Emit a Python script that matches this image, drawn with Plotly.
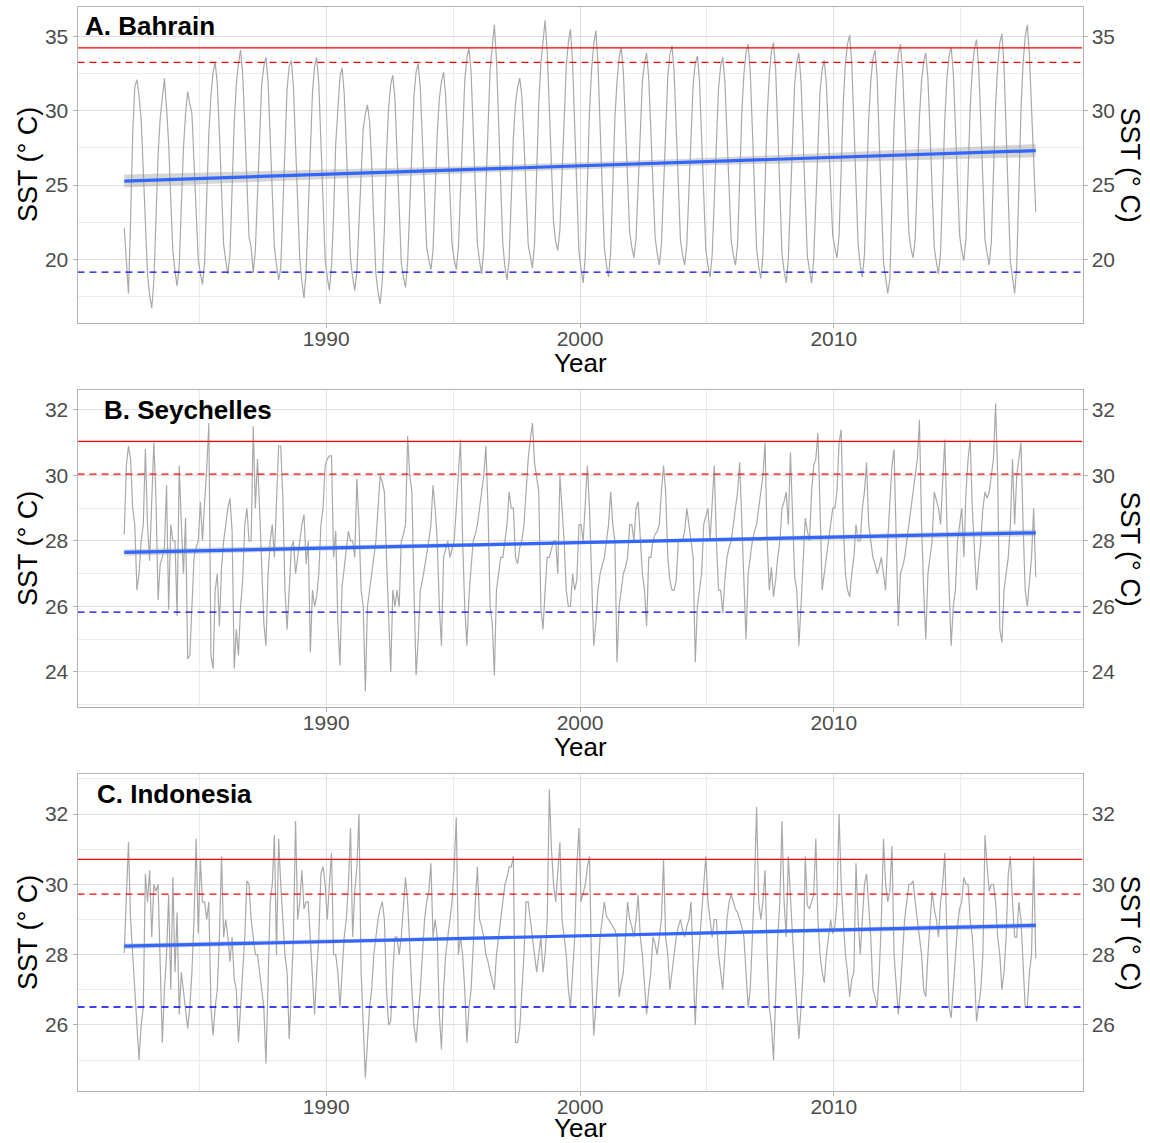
import plotly.graph_objects as go
import numpy as np

# ---------------- data (monthly SST) ----------------
YEAR_START = 1982
X_RANGE = [1980.2, 2019.8]
x_ticks = [1990, 2000, 2010]
x_tick_labels = ["1990", "2000", "2010"]
x_minor_ticks = [1985, 1995, 2005, 2015]

bahrain_sst = [
    22.1, 20.0, 17.7, 22.6, 28.4, 31.6, 32.1, 31.0, 29.4, 26.0, 22.0, 19.0,
    17.6, 16.7, 18.5, 22.5, 27.0, 29.5, 31.0, 32.2, 30.2, 27.8, 24.0, 20.5,
    19.2, 18.2, 19.6, 23.2, 27.5, 29.8, 31.3, 30.5, 29.8, 26.5, 23.0, 20.0,
    19.0, 18.3, 19.8, 23.8, 28.5, 31.0, 32.6, 33.3, 31.8, 28.5, 24.5, 21.0,
    19.9, 19.0, 20.3, 24.5, 29.2, 31.8, 33.2, 34.1, 32.5, 29.0, 25.2, 21.5,
    20.8, 19.1, 20.6, 24.8, 29.0, 31.8, 33.0, 33.6, 32.0, 28.3, 24.6, 20.8,
    19.6, 18.6, 19.4, 23.5, 28.8, 31.5, 33.0, 33.4, 31.6, 27.8, 23.5, 20.0,
    18.5, 17.4, 19.2, 23.5, 28.0, 31.2, 33.0, 33.6, 31.8, 28.0, 23.8, 20.0,
    18.8, 17.9, 19.5, 23.0, 27.8, 30.5, 32.3, 32.9, 31.2, 27.6, 23.5, 20.0,
    18.8, 17.9, 19.2, 22.5, 26.5, 28.8, 29.8, 30.4, 29.3, 26.5, 22.5, 19.0,
    17.8, 17.0, 18.5, 22.0, 27.0, 30.2, 31.8, 32.4, 30.8, 27.3, 23.2, 19.8,
    18.8, 18.1, 19.8, 23.5, 28.3, 31.0, 32.6, 33.2, 31.5, 28.0, 24.3, 20.8,
    20.0, 19.3, 20.6, 24.2, 28.5, 30.8, 32.0, 32.6, 31.0, 28.0, 24.5, 21.0,
    20.0, 19.3, 20.8, 24.8, 29.3, 32.0, 33.6, 34.2, 32.6, 29.0, 24.8, 21.0,
    19.9, 19.0, 20.7, 25.0, 30.0, 32.8, 34.3, 35.8, 33.5, 29.5, 25.0, 21.0,
    19.5, 18.6, 20.0, 23.8, 28.2, 30.5, 31.6, 32.2, 31.0, 28.0, 24.5, 21.0,
    20.2, 19.4, 21.0, 25.5, 30.5, 33.2, 34.8, 36.1, 34.0, 30.5, 26.2, 22.5,
    21.2, 20.6, 22.0, 25.8, 30.5, 33.0, 34.6, 35.5, 33.2, 29.2, 24.5, 20.5,
    19.3, 18.4, 20.2, 24.8, 30.0, 32.8, 34.5, 35.4, 33.2, 29.0, 24.6, 20.8,
    19.6, 18.8, 20.5, 24.6, 29.5, 32.0, 33.6, 34.3, 32.6, 29.0, 25.3, 21.8,
    20.8, 20.1, 21.4, 25.0, 29.5, 32.0, 33.2, 33.9, 32.2, 28.8, 25.0, 21.5,
    20.4, 19.6, 21.0, 25.0, 29.6, 32.3, 33.8, 34.4, 32.6, 29.0, 25.0, 21.3,
    20.3, 19.6, 21.0, 24.8, 29.2, 31.8, 33.2, 33.7, 32.0, 28.5, 24.5, 20.6,
    19.6, 18.8, 20.3, 24.2, 28.8, 31.5, 33.0, 33.6, 32.0, 28.5, 24.8, 21.2,
    20.3, 19.6, 21.0, 25.2, 29.8, 32.5, 33.9, 34.5, 32.6, 28.8, 24.6, 20.7,
    19.5, 18.7, 20.3, 24.8, 29.6, 32.4, 34.0, 34.6, 32.8, 28.8, 24.3, 20.4,
    19.2, 18.4, 20.0, 24.2, 29.0, 31.8, 33.3, 33.9, 32.0, 28.2, 24.0, 20.2,
    19.3, 18.4, 20.0, 24.0, 28.6, 31.3, 32.8, 33.4, 31.8, 28.5, 24.8, 21.6,
    20.8, 20.1, 21.6, 25.8, 30.6, 33.2, 34.5, 35.1, 33.2, 29.2, 24.8, 21.0,
    19.6, 18.8, 20.3, 24.5, 29.4, 32.0, 33.5, 34.1, 32.2, 28.0, 23.5, 19.8,
    18.8, 17.7, 18.6, 23.6, 29.0, 32.0, 33.8, 34.5, 32.8, 29.3, 25.3, 21.8,
    20.7, 20.1, 21.4, 25.2, 29.6, 32.0, 33.3, 33.9, 32.2, 28.6, 24.6, 20.8,
    19.8, 19.0, 20.5, 24.8, 29.5, 32.2, 33.7, 34.3, 32.6, 29.0, 25.2, 21.6,
    20.6, 19.9, 21.4, 25.6, 30.2, 32.8, 34.2, 34.8, 33.0, 29.3, 25.1, 21.3,
    20.4, 19.6, 21.2, 25.5, 30.4, 33.0, 34.6, 35.2, 33.0, 28.6, 23.8, 19.8,
    18.8, 17.7, 19.5, 24.6, 30.0, 33.2, 35.0, 35.8, 33.8, 30.2, 27.0, 23.2,
]

seychelles_sst = [
    28.2, 30.3, 30.9, 30.5, 29.0, 28.5, 26.5, 27.0, 28.0, 28.5, 30.8, 28.5,
    27.4, 29.5, 31.0, 29.3, 26.2, 27.3, 27.5, 27.8, 29.7, 25.9, 28.5, 28.0,
    28.0, 25.7, 30.3, 28.5, 27.0, 28.7, 24.4, 24.5, 26.2, 27.5, 27.8, 28.0,
    29.2, 28.0, 29.2, 30.2, 31.6, 24.5, 24.1, 26.5, 27.0, 25.4, 27.2, 28.0,
    28.5, 29.0, 29.3, 28.3, 24.1, 25.3, 24.5, 26.0, 26.8, 28.5, 29.0, 28.0,
    28.0, 31.5, 29.0, 30.5, 29.0, 27.5, 25.5, 24.8, 27.0, 28.0, 28.5, 27.5,
    29.0, 30.9, 30.9, 29.3, 26.5, 25.3, 26.5, 27.8, 28.0, 27.0, 27.5, 28.0,
    28.5, 28.8, 27.3, 28.0, 24.6, 26.5, 26.0, 26.3, 27.0, 28.5, 29.0, 30.3,
    30.5, 30.6, 30.6, 27.5, 28.3, 25.5, 24.2, 26.6, 27.2, 27.8, 28.3, 28.0,
    28.0, 27.5, 29.9, 28.5, 26.5, 26.0, 23.4, 26.0, 26.5, 27.0, 27.5, 28.0,
    29.0, 30.0, 29.8, 29.5, 27.5, 25.8, 24.0, 26.5, 26.0, 26.5, 26.0, 28.0,
    28.2, 28.5, 31.2, 30.0, 29.5, 26.5, 23.9, 25.0, 26.5, 26.8, 27.2, 27.5,
    28.0, 28.5, 29.7, 29.0, 28.0, 26.0, 24.8, 27.5, 27.8, 28.0, 27.5, 27.8,
    28.0, 29.0, 30.0, 31.1, 28.0, 26.0, 24.8, 26.3, 27.2, 28.0, 28.2, 28.5,
    29.0, 29.5, 30.0, 30.9, 29.0, 26.0, 25.5, 23.9, 26.5, 27.0, 27.5, 27.5,
    28.0, 28.5, 29.5, 29.0, 29.0, 27.5, 27.3, 27.8, 28.0, 28.5, 29.5, 30.5,
    31.1, 31.6, 30.4, 30.0, 29.5, 26.0, 25.3, 26.5, 27.5, 27.5, 27.8, 28.0,
    28.0, 27.0, 30.0, 29.0, 28.0, 26.5, 26.0, 26.0, 27.0, 26.5, 26.8, 28.5,
    28.5, 28.0, 29.0, 30.3, 29.0, 27.0, 24.8, 25.5, 26.5, 27.0, 27.3, 27.5,
    28.0, 28.5, 29.5, 28.5, 28.0, 24.3, 26.0, 26.5, 27.0, 27.2, 27.5, 28.5,
    28.5, 28.0, 29.0, 29.2, 28.0, 27.0, 26.5, 25.4, 27.5, 27.5, 28.0, 28.2,
    28.3, 28.5, 29.5, 30.3, 29.5, 27.5, 26.8, 26.5, 26.5, 26.8, 28.0, 28.0,
    28.0, 28.3, 29.0, 28.5, 28.0, 27.5, 24.3, 26.0, 26.5, 27.0, 28.5, 28.8,
    29.0, 28.0, 29.2, 30.3, 28.0, 26.5, 26.5, 25.8, 26.8, 27.5, 27.8, 28.0,
    28.5, 29.0, 29.5, 30.4, 28.5, 26.5, 25.0, 27.0, 27.5, 28.0, 28.3, 28.5,
    29.0, 29.5, 30.0, 31.0, 28.0, 26.5, 27.2, 26.3, 26.8, 27.5, 28.0, 29.0,
    29.2, 29.5, 28.5, 30.7, 28.5, 26.9, 26.5, 24.8, 26.0, 27.5, 28.7, 28.3,
    28.0, 29.5, 30.3, 30.5, 31.3, 29.0, 26.5, 27.0, 27.5, 28.0, 28.5, 29.0,
    29.0, 29.5, 31.0, 31.4, 28.5, 27.0, 26.5, 26.3, 27.0, 27.5, 28.5, 28.0,
    28.0, 29.0, 29.5, 30.4, 28.5, 28.0, 27.5, 27.3, 27.0, 27.2, 27.5, 27.0,
    26.5, 28.0, 29.0, 30.3, 30.8, 28.0, 25.4, 27.0, 27.2, 27.5, 28.0, 28.5,
    29.0, 29.5, 30.0, 30.5, 31.7, 28.5, 26.5, 25.0, 27.0, 27.5, 28.0, 29.5,
    29.2, 29.0, 28.5, 30.0, 31.1, 28.5, 26.5, 24.8, 26.0, 26.5, 28.0, 28.5,
    29.0, 27.5, 29.5, 30.5, 31.1, 29.0, 27.5, 26.5, 27.3, 28.0, 29.0, 29.5,
    29.3, 29.5, 30.0, 30.5, 32.2, 30.0, 25.3, 24.9, 26.5, 27.0, 27.5, 28.5,
    30.5, 28.5, 30.0, 30.5, 31.0, 28.5, 26.5, 26.0, 26.8, 27.5, 29.0, 26.9,
]

indonesia_sst = [
    28.05, 29.8, 31.2, 29.0, 28.0, 27.0, 26.0, 25.0, 26.0, 26.5, 30.3, 29.5,
    30.4, 28.5, 30.0, 29.8, 30.0, 27.5, 25.5, 27.0, 28.0, 29.7, 27.0, 30.2,
    27.5, 29.2, 26.3, 27.5, 27.0, 26.5, 25.9, 26.5, 27.5, 29.0, 31.3, 28.6,
    30.7, 29.5, 29.5, 29.0, 29.5, 26.5, 25.7, 26.5, 27.0, 28.5, 30.8, 28.5,
    29.0, 28.5, 27.8, 28.5, 27.3, 27.0, 25.5, 26.5, 27.5, 28.5, 30.1, 30.0,
    29.0, 28.5, 28.0, 28.0, 27.5, 27.0, 26.5, 24.9, 27.0, 29.5, 30.0, 31.4,
    28.0, 31.3, 30.0, 29.0, 28.0, 27.5, 25.6, 27.0, 28.5, 31.8, 29.0, 29.5,
    30.4, 29.3, 29.5, 29.5, 28.5, 27.5, 26.3, 27.5, 28.5, 30.3, 30.5, 30.0,
    29.0, 30.0, 30.9, 28.0, 28.0, 27.5, 26.5, 27.5, 28.5, 29.0, 30.0, 31.6,
    28.5, 29.8, 30.5, 32.0, 27.5, 26.0, 24.5, 25.5, 26.5, 27.0, 28.0, 28.5,
    29.0, 29.3, 29.5, 29.0, 27.0, 26.0, 26.1, 27.5, 28.5, 28.5, 28.0, 28.5,
    29.5, 30.2, 29.5, 28.0, 27.0, 26.0, 25.5, 26.3, 27.0, 28.0, 29.0, 29.5,
    29.8, 30.6, 28.5, 29.0, 28.5, 26.3, 25.3, 27.0, 28.0, 28.5, 29.0, 29.5,
    30.5, 31.9, 28.0, 28.5, 28.0, 27.0, 25.5, 26.5, 27.0, 28.5, 29.5, 30.5,
    29.0, 28.8, 28.5, 28.0, 27.8, 27.5, 27.2, 27.0, 28.0, 28.5, 29.0, 29.5,
    30.0, 30.2, 30.5, 30.5, 30.8, 25.5, 25.5, 25.9, 27.0, 28.0, 29.5, 29.5,
    29.0, 28.5, 28.0, 27.5, 28.0, 28.5, 27.5, 28.0, 29.0, 32.7, 31.0, 30.0,
    29.5, 30.5, 31.2, 29.0, 28.5, 28.0, 27.0, 26.5, 27.5, 28.5, 30.5, 31.6,
    29.5, 29.8, 30.0, 30.5, 30.8, 27.5, 25.7, 26.5, 27.5, 28.5, 29.0, 29.5,
    29.1, 29.0, 28.9, 28.8, 28.7, 28.5, 26.8, 27.2, 27.5, 28.5, 29.5, 29.0,
    28.8, 28.5, 29.0, 29.7, 28.5, 28.0, 27.0, 26.3, 27.0, 27.5, 28.5, 28.3,
    28.0, 28.5, 29.0, 30.7, 28.5, 28.0, 27.0, 27.5, 28.0, 28.5, 28.8, 29.0,
    28.7, 28.5, 28.8, 29.0, 29.5, 28.0, 26.0, 27.5, 28.3, 29.0, 30.0, 30.8,
    29.5, 29.0, 28.5, 29.0, 29.0, 28.0, 27.5, 27.0, 28.0, 29.0, 29.5, 29.7,
    29.5, 29.3, 29.2, 29.0, 28.8, 28.5, 27.5, 26.5, 27.0, 28.5, 30.0, 32.2,
    29.5, 29.0, 29.5, 30.4, 28.0, 26.5, 26.0, 25.0, 27.0, 28.5, 29.5, 31.8,
    29.5, 28.5, 30.8, 29.5, 28.5, 27.5, 26.5, 25.6, 26.5, 27.5, 30.8, 29.4,
    29.3, 29.5, 29.7, 31.3, 29.0, 28.0, 27.5, 27.2, 28.0, 28.5, 29.0, 28.6,
    28.8, 29.5, 32.0, 30.0, 29.0, 28.0, 27.5, 26.8, 27.3, 27.5, 30.6, 29.0,
    28.0, 29.0, 30.0, 30.3, 29.5, 28.5, 27.0, 26.8, 26.5, 27.5, 29.0, 31.3,
    30.0, 29.5, 29.8, 31.1, 28.0, 27.0, 26.3, 27.0, 28.0, 29.0, 29.5, 30.0,
    30.0, 30.1, 29.5, 29.0, 28.5, 28.0, 27.0, 26.8, 28.0, 29.0, 29.8, 29.3,
    29.0, 28.5, 29.5, 30.0, 30.9, 28.5, 26.5, 26.2, 27.0, 28.0, 28.8, 29.3,
    29.5, 30.2, 30.0, 30.0, 29.0, 28.5, 27.5, 26.1, 26.5, 27.0, 28.0, 31.4,
    30.5, 29.8, 30.0, 30.0, 29.5, 28.5, 28.0, 27.0, 27.5, 28.5, 30.3, 30.8,
    29.5, 28.5, 28.5, 29.5, 29.0, 27.5, 26.5, 26.5, 27.5, 28.0, 30.8, 27.9,
]

panel_labels = ["A. Bahrain", "B. Seychelles", "C. Indonesia"]
# horizontal reference lines
red_solid = [34.24, 31.04, 30.71]
red_dashed = [33.27, 30.04, 29.72]
blue_dashed = [19.14, 25.83, 26.51]
# linear trend (start / end) and CI half width at centre
trend_start = [25.27, 27.65, 28.24]
trend_end = [27.32, 28.25, 28.83]
trend_ci_mid = [0.22, 0.05, 0.04]

y_ranges = [[15.74, 37.03], [22.93, 32.61], [24.12, 33.14]]
y_ticks = [[20, 25, 30, 35], [24, 26, 28, 30, 32], [26, 28, 30, 32]]
y_minor_ticks = [[17.5, 22.5, 27.5, 32.5], [23, 25, 27, 29, 31], [25, 27, 29, 31, 33]]
label_pos = [[1980.4, 35.75], [1981.15, 32.0], [1980.9, 32.57]]

series = [bahrain_sst, seychelles_sst, indonesia_sst]

# ---------------- layout geometry ----------------
W, H = 1150, 1143
x_dom = [77.5 / W, 1082.5 / W]
y_pix = [(6.5, 322.5), (390, 707), (774, 1091)]
year_pix = [363, 747, 1128]

FONT = "Liberation Sans, Arial, Helvetica, sans-serif"
TICK_FONT = dict(family=FONT, size=21, color="#4d4d4d")
BORDER = "#b3b3b3"
GRID = "#dedede"
GRID_MINOR = "#ececec"

fig = go.Figure()
annotations = []

for k in range(3):
    idx = k + 1
    xa = "x" if idx == 1 else f"x{idx}"
    ya = "y" if idx == 1 else f"y{idx}"
    ya_r = f"y{idx + 3}"
    vals = series[k]
    xs = np.array([YEAR_START + (i + 0.5) / 12 for i in range(len(vals))])

    # SST series
    fig.add_trace(go.Scatter(x=xs, y=vals, mode="lines", xaxis=xa, yaxis=ya,
                             line=dict(color="#a9a9a9", width=1.2),
                             hoverinfo="skip", showlegend=False))

    # linear trend + confidence band
    x0, x1 = xs[0], xs[-1]
    xt = np.linspace(x0, x1, 60)
    yt = trend_start[k] + (trend_end[k] - trend_start[k]) * (xt - x0) / (x1 - x0)
    xm, half = (x0 + x1) / 2, (x1 - x0) / 2
    hw = trend_ci_mid[k] * np.sqrt(1 + 3 * ((xt - xm) / half) ** 2)
    fig.add_trace(go.Scatter(x=np.concatenate([xt, xt[::-1]]),
                             y=np.concatenate([yt + hw, (yt - hw)[::-1]]),
                             fill="toself", fillcolor="rgba(153,153,153,0.4)",
                             line=dict(width=0), mode="lines", xaxis=xa, yaxis=ya,
                             hoverinfo="skip", showlegend=False))
    fig.add_trace(go.Scatter(x=xt, y=yt, mode="lines", xaxis=xa, yaxis=ya,
                             line=dict(color="#3366ff", width=3.2),
                             hoverinfo="skip", showlegend=False))

    # horizontal reference lines on the right-hand axis (same scale)
    for val, col, dash in [(red_solid[k], "red", "solid"),
                           (red_dashed[k], "red", "7px,5px"),
                           (blue_dashed[k], "blue", "7px,5px")]:
        fig.add_trace(go.Scatter(x=X_RANGE, y=[val, val], mode="lines",
                                 xaxis=xa, yaxis=ya_r,
                                 line=dict(color=col, width=1.3, dash=dash),
                                 hoverinfo="skip", showlegend=False))

    top, bot = y_pix[k]
    y_dom = [1 - bot / H, 1 - top / H]
    common_y = dict(range=y_ranges[k], tickmode="array", tickvals=y_ticks[k],
                    ticks="outside", ticklen=4, tickcolor=BORDER, tickwidth=1,
                    tickfont=TICK_FONT, zeroline=False, fixedrange=True,
                    automargin=False)
    fig.layout[f"xaxis{'' if idx == 1 else idx}"] = dict(
        domain=x_dom, anchor=ya, range=X_RANGE, tickmode="array",
        tickvals=x_ticks, ticktext=x_tick_labels, ticks="outside", ticklen=4,
        tickcolor=BORDER, tickwidth=1, tickfont=TICK_FONT, showline=True,
        linecolor=BORDER, linewidth=1, mirror=True, showgrid=True,
        gridcolor=GRID, gridwidth=1, zeroline=False, automargin=False,
        ticklabelstandoff=-7,
        minor=dict(tickmode="array", tickvals=x_minor_ticks, showgrid=True,
                   gridcolor=GRID_MINOR, gridwidth=1, ticks=""))
    fig.layout[f"yaxis{'' if idx == 1 else idx}"] = dict(
        domain=y_dom, anchor=xa, showline=True, linecolor=BORDER, linewidth=1,
        mirror=True, showgrid=True, gridcolor=GRID, gridwidth=1,
        minor=dict(tickmode="array", tickvals=y_minor_ticks[k], showgrid=True,
                   gridcolor=GRID_MINOR, gridwidth=1, ticks=""),
        **common_y)
    fig.layout[f"yaxis{idx + 3}"] = dict(
        overlaying=ya, anchor=xa, side="right", showgrid=False,
        showline=False, **common_y)

    # texts
    annotations.append(dict(text=f"<b>{panel_labels[k]}</b>", x=label_pos[k][0],
                            y=label_pos[k][1], xref=xa, yref=ya, xanchor="left",
                            yanchor="middle", showarrow=False,
                            font=dict(family=FONT, size=26, color="black")))
    annotations.append(dict(text="Year", x=(x_dom[0] + x_dom[1]) / 2,
                            y=1 - year_pix[k] / H, xref="paper",
                            yref="paper", xanchor="center", yanchor="middle",
                            showarrow=False,
                            font=dict(family=FONT, size=26, color="black")))
    yc = 1 - (top + bot) / 2 / H
    annotations.append(dict(text="SST (° C)", x=27.5 / W, y=yc,
                            xref="paper", yref="paper", xanchor="center",
                            yanchor="middle", textangle=-90, showarrow=False,
                            font=dict(family=FONT, size=27, color="black")))
    annotations.append(dict(text="SST (° C)", x=1130 / W, y=yc,
                            xref="paper", yref="paper", xanchor="center",
                            yanchor="middle", textangle=90, showarrow=False,
                            font=dict(family=FONT, size=27, color="black")))

fig.update_layout(width=W, height=H, margin=dict(l=0, r=0, t=0, b=0),
                  paper_bgcolor="white", plot_bgcolor="white",
                  showlegend=False, annotations=annotations,
                  hovermode=False)

# remove the default 8px page margin so the figure fills the window exactly
fig.write_html("out.html", config={"displayModeBar": False},
               post_script="document.body.style.margin='0';"
                           "document.body.style.overflow='hidden';")
